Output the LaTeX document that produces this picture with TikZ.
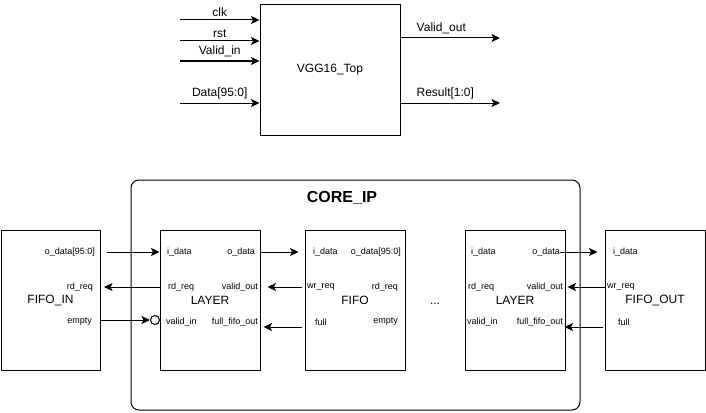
\documentclass[tikz,border=0pt]{standalone}
\usepackage{fontspec}
\setmainfont{Liberation Sans}
\usetikzlibrary{arrows.meta}

\tikzset{
  blocco/.style={draw, line width=1pt, minimum width=100pt, minimum height=140pt, inner sep=0pt, font=\fontsize{12}{14}\selectfont},
  porta/.style={inner sep=0pt, font=\fontsize{9}{10}\selectfont},
  segnale/.style={font=\fontsize{12}{14}\selectfont},
  freccia/.style={line width=1pt, -{Stealth[length=8.5pt,width=8pt,inset=2pt]}},
}

\begin{document}
\begin{tikzpicture}[x=1pt,y=-1pt]
        \useasboundingbox (0,0) rectangle (706,412);

        % blocco VGG16_Top
        \node[blocco, minimum width=140pt, minimum height=130pt] (vgg) at (330,70) {VGG16\_Top};
        \coordinate (clk) at (180,20);
        \coordinate (rst) at (180,41);
        \coordinate (vin) at (180,61);
        \coordinate (din) at (180,103);
        \coordinate (vout) at (500,38);
        \coordinate (res) at (500,103);
        \draw[freccia] (clk) -- (clk -| vgg.west) node[midway, above, segnale] {clk};
        \draw[freccia] (rst) -- (rst -| vgg.west) node[midway, above, segnale] {rst};
        \draw[freccia] (vin) -- (vin -| vgg.west) node[midway, above, segnale] {Valid\_in};
        \draw[freccia] (din) -- (din -| vgg.west) node[midway, above, segnale] {Data[95:0]};
        \draw[freccia] (vout -| vgg.east) -- (vout) node[pos=0.41, above, segnale] {Valid\_out};
        \draw[freccia] (res -| vgg.east) -- (res) node[pos=0.45, above, segnale] {Result[1:0]};

        % cornice CORE_IP
        \node[draw, line width=1pt, rounded corners=8pt, minimum width=449pt, minimum height=230pt] (core) at (355.5,295) {};
        \node[font=\fontsize{16}{18}\selectfont\bfseries] (coretit) at (342,198) {CORE\_IP};

        % blocchi
        \node[blocco, minimum width=99pt] (fifoin) at (50.5,300) {FIFO\_IN};
        \node[blocco] (layerA) at (210,300) {LAYER};
        \node[blocco] (fifo) at (355,300) {FIFO};
        \node[blocco] (layerB) at (515,300) {LAYER};
        \node[blocco] (fifoout) at (655,300) {FIFO\_OUT};
        \node[segnale] (puntini) at (435,304) {...};

        % porte FIFO_IN
        \node[porta, anchor=east] (fi_od) at (95,252) {o\_data[95:0]};
        \node[porta, anchor=east] (fi_rd) at (93,287) {rd\_req};
        \node[porta, anchor=east] (fi_em) at (92,322) {empty};
        % porte LAYER
        \node[porta, anchor=west] (la_id) at (167,252) {i\_data};
        \node[porta, anchor=west] (la_rd) at (168,287) {rd\_req};
        \node[porta, anchor=west] (la_vi) at (166,322) {valid\_in};
        \node[porta, anchor=east] (la_od) at (255,252) {o\_data};
        \node[porta, anchor=east] (la_vo) at (258,287) {valid\_out};
        \node[porta, anchor=east] (la_ff) at (258,322) {full\_fifo\_out};
        % porte FIFO
        \node[porta, anchor=west] (f_id) at (313,252) {i\_data};
        \node[porta, anchor=west] (f_wr) at (307,287) {wr\_req};
        \node[porta, anchor=west] (f_fu) at (315,322) {full};
        \node[porta, anchor=east] (f_od) at (401,252) {o\_data[95:0]};
        \node[porta, anchor=east] (f_rd) at (398,287) {rd\_req};
        \node[porta, anchor=east] (f_em) at (398,322) {empty};
        % porte LAYER 2
        \node[porta, anchor=west] (lb_id) at (471,252) {i\_data};
        \node[porta, anchor=west] (lb_rd) at (468,287) {rd\_req};
        \node[porta, anchor=west] (lb_vi) at (467,322) {valid\_in};
        \node[porta, anchor=east] (lb_od) at (560,252) {o\_data};
        \node[porta, anchor=east] (lb_vo) at (563,287) {valid\_out};
        \node[porta, anchor=east] (lb_ff) at (563,322) {full\_fifo\_out};
        % porte FIFO_OUT
        \node[porta, anchor=west] (fo_id) at (613,252) {i\_data};
        \node[porta, anchor=west] (fo_wr) at (607,287) {wr\_req};
        \node[porta, anchor=west] (fo_fu) at (618,322) {full};

        % collegamenti
        \node[draw, circle, line width=1pt, minimum size=9pt, inner sep=0pt] (bolla) at (155,320) {};
        \draw[freccia] ([xshift=12pt]fi_od.east) -- (fi_od -| layerA.west);
        \draw[freccia] (fi_rd -| layerA.west) -- ([xshift=11pt]fi_rd.east);
        \draw[freccia] (bolla -| fifoin.east) -- (bolla.west);
        \draw[freccia] (la_od -| layerA.east) -- ([xshift=-6pt]f_id -| fifo.west);
        \draw[freccia] ([xshift=-3pt]f_wr -| fifo.west) -- ([xshift=7pt]la_vo -| layerA.east);
        \draw[freccia] ([xshift=-3pt,yshift=-5pt]f_fu -| fifo.west) -- ([xshift=3pt,yshift=-5pt]la_ff -| layerA.east);
        \draw[freccia] (lb_od.east) -- ([xshift=-7pt]lb_od -| fifoout.west);
        \draw[freccia] (fo_wr -| fifoout.west) -- ([xshift=2pt]lb_vo -| layerB.east);
        \draw[freccia] ([xshift=-2pt,yshift=-5pt]fo_fu -| fifoout.west) -- ([xshift=-1pt,yshift=-5pt]lb_ff -| layerB.east);
    \end{tikzpicture}
\end{document}
